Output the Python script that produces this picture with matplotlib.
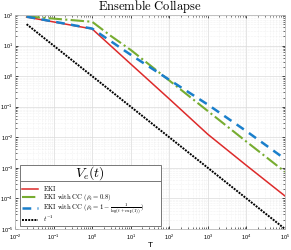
import numpy as np
import matplotlib
matplotlib.use("Agg")
import matplotlib.pyplot as plt
from matplotlib.lines import Line2D
from matplotlib.patches import Rectangle

plt.rcParams['font.family'] = ['Liberation Sans', 'DejaVu Sans']
plt.rcParams['mathtext.fontset'] = 'cm'

# Data
t_eki = [0.02, 1, 10, 100, 1000, 10000, 100000]
v_eki = [86, 35, 2.5, 0.18, 0.0125, 1.2e-3, 1.2e-4]

t_cc = [0.02, 1, 3, 10, 100, 1000, 10000, 100000]
v_cc = [90, 60, 21, 7.2, 0.72, 0.072, 7.2e-3, 7.4e-4]

t_ccl = [0.02, 1, 10, 100, 1000, 10000, 100000]
v_ccl = [88, 36, 5.0, 0.76, 0.117, 0.0158, 1.95e-3]

t_ref = [0.02, 100000]
v_ref = [1 / 0.02, 1 / 100000]

labels = [r'$\mathrm{EKI}$',
          r'$\mathrm{EKI\ with\ CC\ }(\rho_t = 0.8)$',
          r'$\mathrm{EKI\ with\ CC\ }(\rho_t = 1 - \frac{1}{\log(t+\exp(1))})$',
          r'$t^{-1}$']
colors = ['#DD2A2A', '#77AC30', '#1A7FCB', 'black']
widths = [1.1, 1.5, 1.8, 1.4]
styles = ['-', '-.', (0, (3.5, 2.5)), (0, (1, 0.6))]
series = [(t_eki, v_eki), (t_cc, v_cc), (t_ccl, v_ccl), (t_ref, v_ref)]

fig = plt.figure(figsize=(2.91, 2.50), dpi=100)
ax = fig.add_axes([15/291, 1 - 229/250, 270/291, 214/250])

for (t, v), c, w, s, lab in zip(series, colors, widths, styles, labels):
    ax.plot(t, v, color=c, lw=w, ls=s, label=lab)

ax.set_xscale('log')
ax.set_yscale('log')
ax.set_xlim(1e-2, 1e5)
ax.set_ylim(1e-5, 1e2)
ax.xaxis.set_major_locator(matplotlib.ticker.LogLocator(base=10, numticks=20))
ax.yaxis.set_major_locator(matplotlib.ticker.LogLocator(base=10, numticks=20))
ax.xaxis.set_minor_locator(matplotlib.ticker.LogLocator(base=10, subs=np.arange(2, 10), numticks=100))
ax.yaxis.set_minor_locator(matplotlib.ticker.LogLocator(base=10, subs=np.arange(2, 10), numticks=100))
ax.tick_params(which='both', direction='in', top=True, right=True, labelsize=4.0, pad=1.5)
ax.tick_params(which='major', length=2.5, width=0.5)
ax.tick_params(which='minor', length=1.5, width=0.4)
ax.tick_params(axis='x', pad=2.5)
ax.grid(True, which='major', color='#DADADA', lw=0.5)
ax.grid(True, which='minor', color='#E6E6E6', lw=0.4, ls=':')
ax.set_axisbelow(True)
for s in ax.spines.values():
    s.set_color('#BBBBBB')
    s.set_linewidth(0.6)

ax.set_title(r'$\mathrm{Ensemble\ Collapse}$', fontsize=9, pad=2)
ax.set_xlabel('T', fontsize=6, labelpad=0.5)


def axc(px, py):
    return ((px - 15) / 270, (229 - py) / 214)


# legend box
bx0, by0 = axc(20, 226)
bx1, by1 = axc(161, 165)
ax.add_patch(Rectangle((bx0, by0), bx1 - bx0, by1 - by0, transform=ax.transAxes,
                       facecolor='white', edgecolor='#777777', lw=0.7, zorder=9))
sx0, sy = axc(20, 181)
ax.add_line(Line2D([bx0, bx1], [sy, sy], transform=ax.transAxes,
                   color='#777777', lw=0.7, zorder=11))
tx, ty = axc(90, 173)
ax.text(tx, ty, r'$V_e(t)$', transform=ax.transAxes, ha='center', va='center',
        fontsize=10, zorder=12)

# legend entries
rows = [189, 197, 207.5, 219.5]
for py, c, w, s, lab in zip(rows, colors, widths, styles, labels):
    hx0, hy = axc(22, py)
    hx1, _ = axc(38, py)
    ax.add_line(Line2D([hx0, hx1], [hy, hy], transform=ax.transAxes,
                       color=c, lw=w, ls=s, zorder=12))
    txx, tyy = axc(43, py + 2)
    ax.text(txx, tyy, lab, transform=ax.transAxes, ha='left', va='baseline',
            fontsize=4.8, zorder=12)

fig.savefig('out.png', dpi=100)
